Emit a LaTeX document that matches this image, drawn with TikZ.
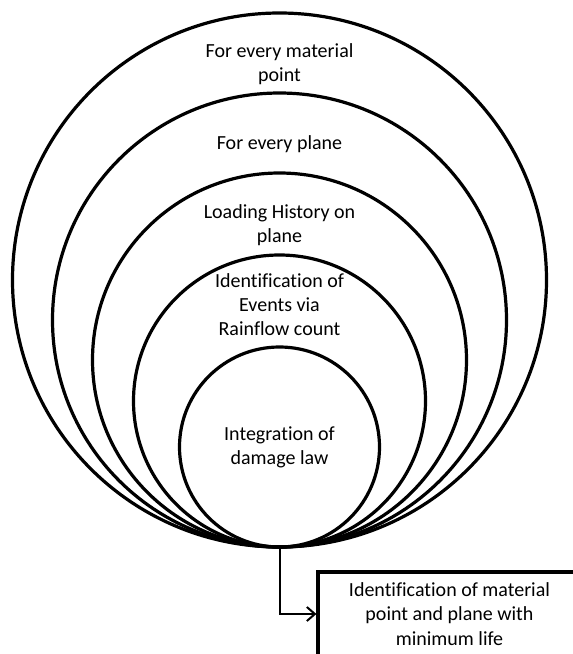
\documentclass[tikz,border=0pt]{standalone}
\usepackage{fontspec}
\setmainfont[Ligatures={NoCommon,NoContextual}]{Carlito}
\usetikzlibrary{arrows.meta}
\begin{document}
\begin{tikzpicture}[x=1pt,y=-1pt,
  ring/.style={draw,circle,line width=3.2pt,inner sep=0pt,outer sep=0pt},
  lbl/.style={align=center,inner sep=0pt,font=\fontsize{20}{24}\selectfont},
  resbox/.style={draw,line width=3.2pt,minimum width=263pt,minimum height=84pt,inner sep=0pt,align=center,font=\fontsize{20}{24.4}\selectfont},
  conn/.style={line width=2pt,-{Straight Barb[length=8pt,width=14pt,line width=2pt]}}]
\clip (0,0) rectangle (573,654);
\useasboundingbox (0,0) rectangle (573,654);
\node[ring,minimum size=534pt] (c1) at (279.5,280) {};
\node[ring,minimum size=454pt] (c2) at (279.5,320) {};
\node[ring,minimum size=374pt] (c3) at (279.5,360) {};
\node[ring,minimum size=292pt] (c4) at (279.5,401) {};
\node[ring,minimum size=200pt] (c5) at (279.5,447) {};
\node[lbl] (t1) at (279.5,64) {For every material\\point};
\node[lbl] (t2) at (279.5,144) {For every plane};
\node[lbl] (t3) at (279.5,225) {Loading History on\\plane};
\node[lbl] (t4) at (279.5,305) {Identification of\\Events via\\Rainflow count};
\node[lbl] (t5) at (279.5,447) {Integration of\\damage law};
\node[resbox] (box) at (449.5,614) {Identification of material\\point and plane with\\minimum life};
\draw[conn] (c5.south) |- (box.west);
\end{tikzpicture}
\end{document}
